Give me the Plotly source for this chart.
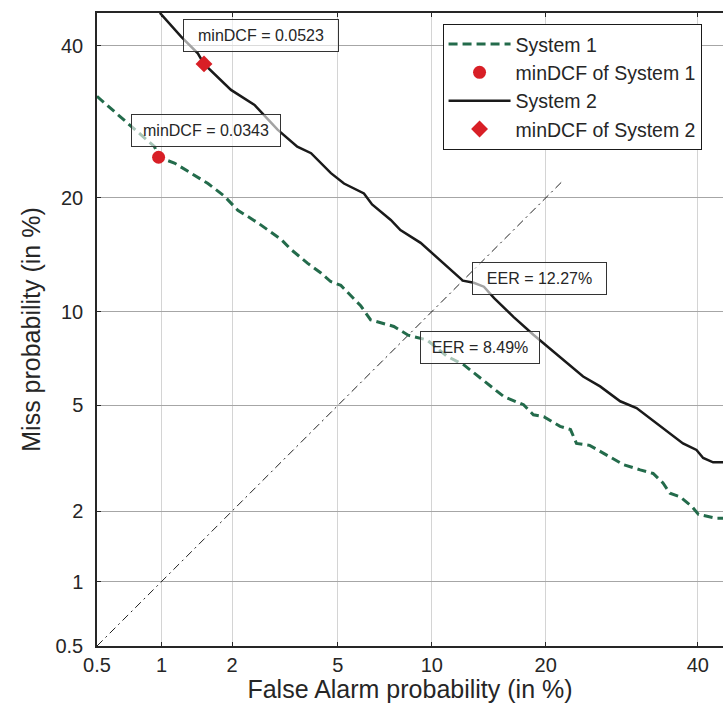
from statistics import NormalDist
import plotly.graph_objects as go

# ---------------- data (percent) ----------------
tick_pct = [0.5, 1, 2, 5, 10, 20, 40]
tick_labels = ["0.5", "1", "2", "5", "10", "20", "40"]
x_limits_pct = [0.5, 43.8]
y_limits_pct = [0.5, 45.0]

sys1_fa = [0.5, 0.70, 0.93, 0.97, 1.14, 1.59, 1.86, 2.11, 2.54, 3.12, 3.39, 3.90, 4.35,
           4.72, 5.12, 5.98, 6.45, 7.66, 8.49, 9.67, 11.08, 12.35, 13.7, 15.8, 17.7,
           18.7, 19.8, 21.6, 22.8, 23.5, 25.1, 26.8, 29.4, 31.7, 33.5, 34.9, 35.9,
           37.4, 39.1, 40.1, 42.8, 45.0]
sys1_miss = [32.7, 29.1, 26.0, 24.7, 24.0, 21.6, 20.2, 18.7, 17.4, 15.8, 14.9, 13.7, 12.9,
             12.2, 11.9, 10.4, 9.45, 9.03, 8.49, 8.21, 7.29, 6.84, 6.21, 5.36, 5.03,
             4.64, 4.57, 4.22, 4.11, 3.66, 3.60, 3.37, 3.05, 2.91, 2.82, 2.59, 2.36,
             2.28, 2.09, 1.94, 1.87, 1.87]

sys2_fa = [0.97, 0.99, 1.22, 1.44, 1.53, 1.98, 2.46, 3.02, 3.58, 4.02, 4.73, 5.25, 6.13,
           6.52, 7.49, 8.03, 9.26, 11.08, 12.27, 13.15, 14.0, 14.9, 16.7, 18.7, 22.0,
           24.3, 26.4, 29.0, 31.2, 34.0, 35.9, 37.8, 39.8, 40.8, 42.3, 45.0]
sys2_miss = [46.0, 44.9, 41.4, 38.9, 37.35, 33.6, 31.5, 28.2, 26.0, 25.2, 22.8, 21.6, 20.5,
             19.3, 17.7, 16.7, 15.5, 13.4, 12.27, 12.1, 11.8, 10.95, 9.65, 8.52, 7.11,
             6.27, 5.81, 5.17, 4.90, 4.33, 4.00, 3.66, 3.46, 3.23, 3.11, 3.11]

mindcf1_point = [0.97, 24.7]
mindcf2_point = [1.53, 37.35]
mindcf_values = [0.0343, 0.0523]
eer_values = [8.49, 12.27]
diag_pct = [0.5, 22.0]

# ---------------- helpers ----------------
ND = NormalDist()


def probit(vals):
    return [ND.inv_cdf(v / 100.0) for v in vals]


FONT = "Liberation Sans, Arial, sans-serif"
TXT = "#262626"
GREEN = "#236b4b"
RED = "#d81f26"

fig = go.Figure()

fig.add_trace(go.Scatter(x=probit(diag_pct), y=probit(diag_pct), mode="lines",
                         line=dict(color="#222222", width=1, dash="8px,4px,2px,4px"),
                         showlegend=False, hoverinfo="skip"))

fig.add_trace(go.Scatter(x=probit(sys1_fa), y=probit(sys1_miss), mode="lines",
                         name="System 1",
                         line=dict(color=GREEN, width=3, dash="9px,5px")))
fig.add_trace(go.Scatter(x=probit([mindcf1_point[0]]), y=probit([mindcf1_point[1]]),
                         mode="markers", name="minDCF of System 1",
                         marker=dict(color=RED, size=13, symbol="circle")))
fig.add_trace(go.Scatter(x=probit(sys2_fa), y=probit(sys2_miss), mode="lines",
                         name="System 2",
                         line=dict(color="#1a1a1a", width=2.5)))
fig.add_trace(go.Scatter(x=probit([mindcf2_point[0]]), y=probit([mindcf2_point[1]]),
                         mode="markers", name="minDCF of System 2",
                         marker=dict(color=RED, size=13, symbol="diamond")))

ann_common = dict(showarrow=False, xanchor="left", yanchor="middle",
                  font=dict(family=FONT, size=16, color=TXT),
                  bgcolor="rgba(255,255,255,0.6)", bordercolor="#333333",
                  borderwidth=1, borderpad=6, height=19)

fig.add_annotation(x=probit([mindcf2_point[0]])[0], y=probit([mindcf2_point[1]])[0],
                   text=f"minDCF = {mindcf_values[1]:.4f}", xshift=-21, yshift=28,
                   width=142, **ann_common)
fig.add_annotation(x=probit([mindcf1_point[0]])[0], y=probit([mindcf1_point[1]])[0],
                   text=f"minDCF = {mindcf_values[0]:.4f}", xshift=-28, yshift=27,
                   width=136, **ann_common)
fig.add_annotation(x=probit([eer_values[1]])[0], y=probit([eer_values[1]])[0],
                   text=f"EER = {eer_values[1]:.2f}%", xshift=9, yshift=2,
                   width=121, **ann_common)
fig.add_annotation(x=probit([eer_values[0]])[0], y=probit([eer_values[0]])[0],
                   text=f"EER = {eer_values[0]:.2f}%", xshift=12, yshift=-12,
                   width=106, **ann_common)

axis_common = dict(tickvals=probit(tick_pct), ticktext=tick_labels,
                   ticks="inside", ticklen=4, tickcolor=TXT, tickwidth=1,
                   showline=True, linecolor=TXT, linewidth=1.5,
                   showgrid=True, zeroline=False,
                   tickfont=dict(family=FONT, size=20, color=TXT))

fig.update_xaxes(range=probit(x_limits_pct), mirror="ticks", gridcolor="#d4d4d4",
                 title=dict(text="False Alarm probability (in %)",
                            font=dict(family=FONT, size=25, color=TXT), standoff=8),
                 **axis_common)
fig.update_yaxes(range=probit(y_limits_pct), mirror=False, gridcolor="#a6a6a6",
                 ticklabelstandoff=8,
                 title=dict(text="Miss probability (in %)",
                            font=dict(family=FONT, size=25, color=TXT), standoff=8),
                 **axis_common)

fig.update_layout(
    width=723, height=703,
    margin=dict(l=97, r=0, t=13, b=57),
    paper_bgcolor="white", plot_bgcolor="white",
    font=dict(family=FONT, color=TXT),
    showlegend=True,
    legend=dict(x=0.552, y=0.983, xanchor="left", yanchor="top",
                bgcolor="white", bordercolor="#1a1a1a", borderwidth=1,
                font=dict(family=FONT, size=19.5, color=TXT),
                itemwidth=62, tracegroupgap=0),
)

fig.write_html("out.html")
